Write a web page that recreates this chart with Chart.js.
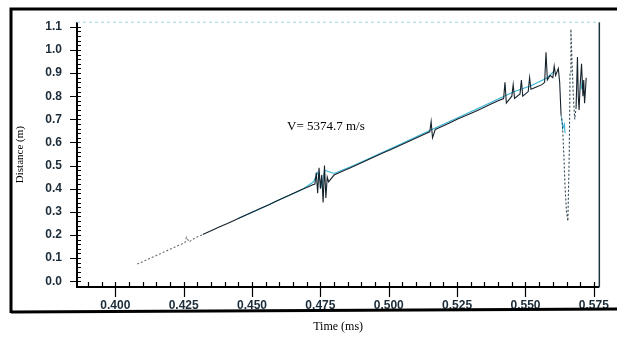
<!DOCTYPE html>
<html>
<head>
<meta charset="utf-8">
<script src="https://cdn.jsdelivr.net/npm/chart.js@4.4.1/dist/chart.umd.min.js"></script>
<style>
html,body{margin:0;padding:0;background:#fff}
#wrap{width:620px;height:339px;position:relative}
</style>
</head>
<body>
<div id="wrap"><canvas id="c" width="620" height="339"></canvas></div>
<script>
// tick labels
const xTicks = [0.400,0.425,0.450,0.475,0.500,0.525,0.550,0.575];
const yTicks = [0.0,0.1,0.2,0.3,0.4,0.5,0.6,0.7,0.8,0.9,1.0,1.1];

// main (dark) trace
const traceT = [0.408,0.411,0.414,0.417,0.420,0.423,0.4255,0.426,0.427,0.429,0.432,0.435,0.438,0.441,0.444,0.447,0.450,0.453,0.456,0.459,0.462,0.465,0.468,0.470,0.472,0.473,
  0.4735,0.474,0.4745,0.475,0.4755,0.476,0.4765,0.477,0.4775,0.478,0.480,0.483,0.486,0.489,0.492,0.495,0.498,0.501,0.504,0.507,0.510,0.513,0.515,0.5155,0.516,0.517,0.519,
  0.522,0.525,0.528,0.531,0.534,0.537,0.540,0.542,0.5425,0.543,0.545,0.5455,0.546,0.548,0.5485,0.549,0.551,0.5515,0.552,0.554,0.556,0.557,0.5575,0.558,0.559,0.560,0.5605,
  0.561,0.562,0.5625,0.563,0.5635,0.564,0.5645,0.565,0.5655,0.566,0.5663,0.5666,0.567,0.5675,0.568,0.5685,0.569,0.5693,0.5696,0.570,0.5705,0.571,0.5713,0.5716,0.572,0.5722];
const traceD = [0.074,0.090,0.106,0.122,0.138,0.154,0.167,0.19,0.17,0.186,0.202,0.218,0.234,0.250,0.266,0.282,0.298,0.314,0.330,0.347,0.363,0.379,0.395,0.405,0.416,0.42,
  0.47,0.38,0.49,0.40,0.46,0.34,0.50,0.36,0.45,0.43,0.459,0.475,0.491,0.507,0.523,0.539,0.555,0.571,0.587,0.603,0.619,0.635,0.646,0.69,0.62,0.656,0.667,
  0.683,0.700,0.715,0.731,0.747,0.764,0.780,0.79,0.86,0.77,0.80,0.85,0.79,0.81,0.87,0.80,0.82,0.88,0.83,0.84,0.85,0.86,0.99,0.87,0.89,0.88,0.93,
  0.89,0.92,0.86,0.72,0.68,0.55,0.40,0.30,0.26,0.55,0.90,1.09,0.95,0.80,0.70,0.75,0.97,0.80,0.74,0.85,0.94,0.80,0.87,0.77,0.84,0.88];

// light blue overlay trace (null = gap)
const cyanT = [0.445,0.452,0.460,0.468,0.4725,0.474,0.4755,0.4765,0.480,0.488,0.496,0.505,0.512,0.518,0.526,0.534,0.540,0.546,0.552,0.558,0.5605,0.561,0.5632,0.5636,0.5642,0.5645,0.5700,0.5704,0.5708];
const cyanD = [0.272,0.308,0.352,0.394,0.43,0.47,0.41,0.48,0.466,0.505,0.548,0.597,0.636,0.668,0.711,0.754,0.788,0.82,0.845,0.88,0.91,null,0.71,0.66,0.68,0.64,null,0.83,0.87];

const V_LABEL = 'V= 5374.7 m/s';

const toXY = (ts, ds) => ts.map((t, i) => ({x: t, y: ds[i]}));
const dotted = x => x < 0.43 || (x > 0.5625 && x < 0.5685);

const framePlugin = {
  id: 'frame',
  beforeDraw(chart){
    const c = chart.ctx;
    c.save();
    c.fillStyle = '#fff';
    c.fillRect(0, 0, chart.width, chart.height);
    c.restore();
  },
  afterDraw(chart){
    const c = chart.ctx, a = chart.chartArea;
    const xs = chart.scales.x, ys = chart.scales.y;
    c.save();
    // outer scan frame
    c.strokeStyle = '#000';
    c.lineWidth = 3;
    c.beginPath();
    c.moveTo(11, 313); c.lineTo(11, 9); c.lineTo(617, 9);
    c.moveTo(11, 312); c.lineTo(617, 309);
    c.stroke();
    // plot box
    c.lineWidth = 2;
    c.beginPath();
    c.moveTo(a.left, a.top); c.lineTo(a.left, a.bottom); c.lineTo(a.right, a.bottom);
    c.stroke();
    c.strokeStyle = '#1d3440';
    c.lineWidth = 1.5;
    c.beginPath(); c.moveTo(a.right, a.top); c.lineTo(a.right, a.bottom); c.stroke();
    c.strokeStyle = '#9fd4e0';
    c.lineWidth = 1;
    c.setLineDash([3, 3]);
    c.beginPath(); c.moveTo(a.left, a.top); c.lineTo(a.right, a.top); c.stroke();
    c.setLineDash([]);
    // ticks
    c.strokeStyle = '#000';
    c.lineWidth = 1.2;
    c.beginPath();
    for (let v = 0.390; v <= 0.5755; v += 0.005) {
      const px = Math.round(xs.getPixelForValue(v)) + 0.5;
      c.moveTo(px, a.bottom - 5); c.lineTo(px, a.bottom);
    }
    xTicks.forEach(v => {
      const px = Math.round(xs.getPixelForValue(v)) + 0.5;
      c.moveTo(px, a.bottom - 4); c.lineTo(px, a.bottom + 10);
    });
    for (let v = 0; v <= 1.115; v += 0.02) {
      const py = Math.round(ys.getPixelForValue(v)) + 0.5;
      c.moveTo(a.left, py); c.lineTo(a.left + 4, py);
    }
    yTicks.forEach(v => {
      const py = Math.round(ys.getPixelForValue(v)) + 0.5;
      c.moveTo(a.left - 7, py); c.lineTo(a.left + 4, py);
    });
    c.stroke();
    // velocity label
    c.fillStyle = '#000';
    c.font = '13px "Liberation Serif"';
    c.textBaseline = 'middle';
    c.fillText(V_LABEL, xs.getPixelForValue(0.4628), ys.getPixelForValue(0.668));
    c.restore();
  }
};

new Chart(document.getElementById('c'), {
  type: 'scatter',
  data: {datasets: [
    {label: 'trace', data: toXY(traceT, traceD), showLine: true, borderColor: '#15222c', borderWidth: 1.1,
     pointRadius: 0, spanGaps: false,
     segment: {
       borderColor: ctx => ctx.p0.parsed.x < 0.43 ? '#6b6b6b' : (dotted(ctx.p0.parsed.x) ? '#2f4650' : undefined),
       borderDash: ctx => dotted(ctx.p0.parsed.x) ? [2, 2] : undefined
     }},
    {label: 'cyan', data: toXY(cyanT, cyanD), showLine: true, borderColor: '#37b6d8', borderWidth: 1.1,
     pointRadius: 0, spanGaps: false}
  ]},
  options: {
    responsive: false,
    animation: false,
    layout: {padding: {left: 10, right: 12, top: 18, bottom: 1}},
    plugins: {legend: {display: false}, tooltip: {enabled: false}},
    scales: {
      x: {
        type: 'linear', min: 0.386, max: 0.577,
        afterBuildTicks: s => { s.ticks = xTicks.map(v => ({value: v})); },
        afterFit: s => { s.height = 51; },
        grid: {display: false, drawTicks: false},
        border: {display: false},
        ticks: {padding: 11, color: '#1b2b38', font: {family: 'Liberation Sans', size: 12, weight: 'bold'},
                callback: v => v.toFixed(3), maxRotation: 0, autoSkip: false},
        title: {display: true, text: 'Time (ms)', color: '#000', font: {family: 'Liberation Serif', size: 12}, padding: 4}
      },
      y: {
        type: 'linear', min: -0.025, max: 1.12,
        afterBuildTicks: s => { s.ticks = yTicks.map(v => ({value: v})); },
        afterFit: s => { s.width = 67; },
        grid: {display: false, drawTicks: false},
        border: {display: false},
        ticks: {padding: 15, color: '#1b2b38', font: {family: 'Liberation Sans', size: 12, weight: 'bold'},
                callback: v => v.toFixed(1), autoSkip: false},
        title: {display: true, text: 'Distance (m)', color: '#000', font: {family: 'Liberation Serif', size: 11}, padding: 4}
      }
    }
  },
  plugins: [framePlugin]
});
</script>
</body>
</html>
